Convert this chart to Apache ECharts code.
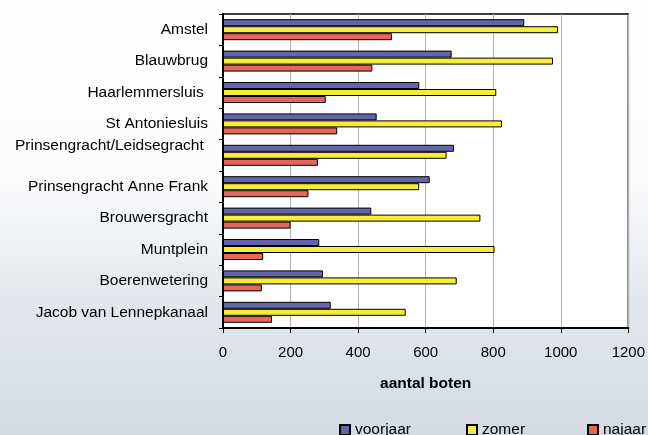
<!DOCTYPE html>
<html>
<head>
<meta charset="utf-8">
<script src="https://cdn.jsdelivr.net/npm/echarts@6/dist/echarts.min.js"></script>
<style>html,body{margin:0;padding:0;}#c{width:648px;height:435px;}</style>
</head>
<body>
<div id="c"></div>
<script>
var categories = ['Amstel', 'Blauwbrug', 'Haarlemmersluis ', 'St Antoniesluis', 'Prinsengracht/Leidsegracht ', 'Prinsengracht Anne Frank', 'Brouwersgracht', 'Muntplein', 'Boerenwetering', 'Jacob van Lennepkanaal'];
var voorjaar = [892, 677, 581, 455, 684, 612, 439, 285, 296, 319];
var zomer = [992, 977, 809, 826, 662, 581, 762, 804, 692, 541];
var najaar = [500, 442, 304, 338, 281, 253, 200, 119, 115, 145];
var xTicks = [0, 200, 400, 600, 800, 1000, 1200];

var FONT = '"Liberation Sans", Arial, sans-serif';
var chart = echarts.init(document.getElementById('c'), null, {renderer: 'canvas'});

function legendFor(name, left) {
  return {
    data: [name], left: left, top: 422, orient: 'horizontal',
    itemWidth: 10, itemHeight: 10, itemGap: 0, padding: 0,
    textStyle: {fontFamily: FONT, fontSize: 15.5, color: '#000', padding: [0, 0, 0, 0]},
    icon: 'rect'
  };
}

function barSeries(name, data, color) {
  return {
    name: name, type: 'bar', data: data,
    barWidth: 7, barGap: '0%',
    itemStyle: {color: color, borderColor: '#000', borderWidth: 1},
    emphasis: {disabled: true}
  };
}

var option = {
  animation: false,
  backgroundColor: {
    type: 'linear', x: 0, y: 0, x2: 0, y2: 1,
    colorStops: [
      {offset: 0, color: '#ffffff'},
      {offset: 0.4, color: '#fbfcfd'},
      {offset: 0.7, color: '#e2e7ed'},
      {offset: 1, color: '#d4dbe3'}
    ]
  },
  grid: {
    left: 223, top: 14, width: 409, height: 314,
    show: true, backgroundColor: '#ffffff', borderColor: '#000', borderWidth: 1.5,
    containLabel: false
  },
  legend: [
    legendFor('voorjaar', 339),
    legendFor('zomer', 466),
    legendFor('najaar', 587)
  ],
  xAxis: {
    type: 'value', min: xTicks[0], max: xTicks[xTicks.length - 1], interval: 200,
    name: 'aantal boten', nameLocation: 'middle', nameGap: 48,
    nameTextStyle: {fontFamily: FONT, fontSize: 15.5, fontWeight: 'bold', color: '#000'},
    axisLine: {show: true, lineStyle: {color: '#000', width: 2}},
    axisTick: {show: true, inside: false, length: 5, lineStyle: {color: '#000', width: 1}},
    axisLabel: {fontFamily: FONT, fontSize: 15, color: '#000', margin: 17,
      formatter: function (v) { return String(v); }},
    splitLine: {show: true, lineStyle: {color: '#b4b4b4', width: 1}}
  },
  yAxis: {
    type: 'category', data: categories, inverse: true,
    axisLine: {show: true, lineStyle: {color: '#000', width: 2}},
    axisTick: {show: true, inside: false, length: 4, lineStyle: {color: '#000', width: 1}},
    axisLabel: {
      fontFamily: FONT, fontSize: 15.5, color: '#000', margin: 15, lineHeight: 20,
      formatter: function (v) { return v.indexOf('/') >= 0 ? v + '\n' : v; }
    },
    splitLine: {show: false}
  },
  series: [
    barSeries('voorjaar', voorjaar, '#6464a8'),
    barSeries('zomer', zomer, '#f5ec3c'),
    barSeries('najaar', najaar, '#e6665a')
  ]
};
chart.setOption(option);
</script>
</body>
</html>
